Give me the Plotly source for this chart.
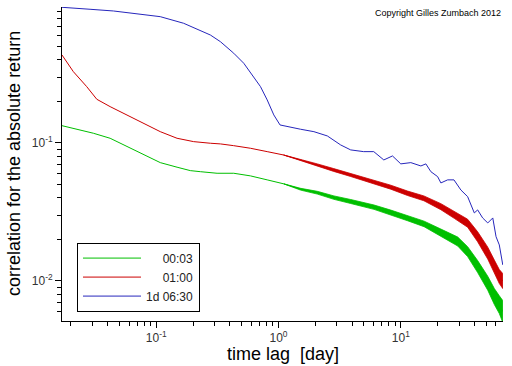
import math
import plotly.graph_objects as go

# ---------------- data ----------------
series_names = ["\u2007\u2007\u00a000:03", "\u2007\u2007\u00a001:00", "1d 06:30"]
series_colors = ["#00bf00", "#cc0000", "#2626bc"]

green_x = [0.01696, 0.02239, 0.0306, 0.04198, 0.0575, 0.0787, 0.1079, 0.148, 0.19, 0.2296,
           0.3144, 0.4303, 0.5896, 0.808, 1.105, 1.515, 2.076, 2.84, 3.892, 4.42, 6.04, 8.28,
           11.35, 15.52, 21.27, 29.2, 35.2, 42.5, 51.4, 58.2, 63.9, 68.2]
green_y = [0.1334, 0.1257, 0.1176, 0.1081, 0.0940, 0.0818, 0.0720, 0.0667, 0.0630, 0.0619,
           0.0603, 0.0603, 0.0577, 0.0540, 0.0505, 0.0462, 0.0436, 0.0401, 0.0376, 0.0366,
           0.0342, 0.0313, 0.0285, 0.0259, 0.0224, 0.0193, 0.0163, 0.0127, 0.00962, 0.0077,
           0.0067, 0.0060]

red_x = [0.01696, 0.0210, 0.0270, 0.03266, 0.04198, 0.0575, 0.0787, 0.1079, 0.148, 0.2023,
         0.2772, 0.3349, 0.428, 0.5896, 0.808, 1.099, 1.515, 2.076, 2.824, 3.892, 4.42, 6.01,
         8.28, 11.35, 15.44, 21.27, 27.35, 35.2, 42.5, 51.4, 58.2, 63.9, 68.2]
red_y = [0.434, 0.3286, 0.256, 0.2073, 0.1833, 0.1596, 0.139, 0.1207, 0.1081, 0.1022,
         0.0995, 0.0984, 0.0956, 0.0915, 0.0865, 0.0818, 0.0753, 0.0693, 0.0637, 0.0586,
         0.0564, 0.0524, 0.0478, 0.0432, 0.0397, 0.0345, 0.0301, 0.0262, 0.0209, 0.0159,
         0.0127, 0.01075, 0.0100]

blue_x = [0.01696, 0.02239, 0.02877, 0.04467, 0.0695, 0.1079, 0.1675, 0.2296, 0.2772, 0.3349,
          0.4303, 0.5198, 0.6275, 0.712, 0.808, 0.915, 1.029, 1.185, 1.515, 1.947, 2.508,
          3.222, 3.892, 4.97, 6.01, 7.26, 8.55, 10.0, 12.08, 14.59, 16.03, 17.62, 20.0, 21.27,
          24.15, 27.2, 31.0, 35.2, 39.9, 42.5, 46.7, 51.4, 56.5, 60.1, 63.9, 68.2]
blue_y = [0.962, 0.951, 0.931, 0.905, 0.861, 0.823, 0.737, 0.651, 0.606, 0.542,
          0.447, 0.378, 0.302, 0.256, 0.205, 0.1596, 0.135, 0.1312, 0.1257, 0.1207, 0.1124,
          0.0967, 0.089, 0.0865, 0.0865, 0.0753, 0.0805, 0.0705, 0.072, 0.0681, 0.0705, 0.0619,
          0.057, 0.0513, 0.054, 0.054, 0.0456, 0.0408, 0.0311, 0.0327, 0.0286, 0.0263, 0.0286,
          0.0209, 0.01823, 0.01306]

# noise envelopes of the dense (thick) parts of the curves
green_band_x = [1.105, 1.515, 2.076, 2.84, 3.892, 6.04, 8.28, 11.35, 15.52, 21.27, 29.2, 35.2,
                42.5, 51.4, 58.2, 63.9, 68.2]
green_band_lo = [0.0505, 0.0455, 0.0426, 0.0390, 0.0364, 0.0330, 0.0301, 0.0273, 0.0247, 0.02113,
                 0.0179, 0.0150, 0.01149, 0.00856, 0.00674, 0.0058, 0.0050]
green_band_hi = [0.0505, 0.0469, 0.0446, 0.0413, 0.0389, 0.0355, 0.0326, 0.0298, 0.0271, 0.02375,
                 0.0208, 0.0177, 0.01404, 0.01081, 0.0088, 0.0078, 0.0072]

red_band_x = [1.099, 1.515, 2.076, 2.824, 3.892, 6.01, 8.28, 11.35, 15.44, 21.27, 27.35, 35.2,
              42.5, 51.4, 58.2, 63.9, 68.2]
red_band_lo = [0.0818, 0.0745, 0.0681, 0.0622, 0.0571, 0.0508, 0.0462, 0.0416, 0.0381, 0.0328,
               0.0284, 0.0245, 0.0192, 0.01439, 0.0114, 0.00957, 0.0088]
red_band_hi = [0.0818, 0.0761, 0.0705, 0.0652, 0.0602, 0.0540, 0.0494, 0.0448, 0.0413, 0.0363,
               0.0319, 0.0280, 0.0227, 0.01757, 0.01415, 0.01208, 0.0113]

x_tick_vals = [0.1, 1, 10]
x_tick_text = ["10<sup>-1</sup>", "10<sup>0</sup>", "10<sup>1</sup>"]
x_minor_vals = [0.02, 0.03, 0.04, 0.05, 0.06, 0.07, 0.08, 0.09,
                0.2, 0.3, 0.4, 0.5, 0.6, 0.7, 0.8, 0.9,
                2, 3, 4, 5, 6, 7, 8, 9, 20, 30, 40, 50, 60]
y_tick_vals = [0.01, 0.1]
y_tick_text = ["10<sup>-2</sup>", "10<sup>-1</sup>"]
y_minor_vals = [0.006, 0.007, 0.008, 0.009,
                0.02, 0.03, 0.04, 0.05, 0.06, 0.07, 0.08, 0.09,
                0.2, 0.3, 0.4, 0.5, 0.6, 0.7, 0.8, 0.9]

x_range = [0.01696, 68.5]
y_range = [0.00512, 0.967]

# ---------------- figure ----------------
FONT = "Liberation Sans, Arial, sans-serif"
fig = go.Figure()


def band(xs, lo, hi, color):
    return go.Scatter(x=list(xs) + list(xs)[::-1], y=list(hi) + list(lo)[::-1],
                      mode="lines", fill="toself", fillcolor=color,
                      line=dict(color=color, width=0.8), hoverinfo="skip", showlegend=False)


fig.add_trace(go.Scatter(x=green_x, y=green_y, mode="lines", name=series_names[0],
                         line=dict(color=series_colors[0], width=1)))
fig.add_trace(go.Scatter(x=red_x, y=red_y, mode="lines", name=series_names[1],
                         line=dict(color=series_colors[1], width=1)))
fig.add_trace(go.Scatter(x=blue_x, y=blue_y, mode="lines", name=series_names[2],
                         line=dict(color=series_colors[2], width=1)))
fig.add_trace(band(green_band_x, green_band_lo, green_band_hi, series_colors[0]))
fig.add_trace(band(red_band_x, red_band_lo, red_band_hi, series_colors[1]))

axis_common = dict(type="log", showline=True, linecolor="black", linewidth=1, mirror=False,
                   showgrid=False, zeroline=False, ticks="outside", ticklen=6, tickwidth=1,
                   tickcolor="black", tickfont=dict(family=FONT, size=12, color="#333"))

fig.update_xaxes(range=[math.log10(v) for v in x_range], tickmode="array",
                 tickvals=x_tick_vals, ticktext=x_tick_text,
                 minor=dict(tickmode="array", tickvals=x_minor_vals, ticks="outside",
                            ticklen=4, tickcolor="black", tickwidth=1),
                 **axis_common)
fig.update_yaxes(range=[math.log10(v) for v in y_range], tickmode="array",
                 tickvals=y_tick_vals, ticktext=y_tick_text,
                 minor=dict(tickmode="array", tickvals=y_minor_vals, ticks="outside",
                            ticklen=4, tickcolor="black", tickwidth=1),
                 **axis_common)

fig.update_layout(
    width=512, height=366,
    margin=dict(l=62, r=9, t=7, b=45),
    paper_bgcolor="white", plot_bgcolor="white",
    font=dict(family=FONT, color="black"),
    showlegend=True,
    legend=dict(x=0.034, y=0.03, xanchor="left", yanchor="bottom",
                bgcolor="white", bordercolor="black", borderwidth=1,
                itemwidth=58, font=dict(family=FONT, size=12, color="#222"),
                tracegroupgap=0),
    annotations=[
        dict(text="correlation for the absolute return", xref="paper", yref="paper",
             x=0, y=0.5, xanchor="center", yanchor="middle", textangle=-90,
             xshift=-48, showarrow=False, font=dict(family=FONT, size=18, color="black")),
        dict(text="time lag\u00a0 [day]", xref="paper", yref="paper",
             x=0.5, y=0, xanchor="center", yanchor="middle",
             yshift=-33, showarrow=False, font=dict(family=FONT, size=18, color="black")),
        dict(text="Copyright Gilles Zumbach 2012", xref="paper", yref="paper",
             x=1, y=1, xanchor="right", yanchor="middle", yshift=-6,
             showarrow=False, font=dict(family=FONT, size=9, color="black")),
    ],
)

fig.write_html("out.html", config={"displayModeBar": False},
               post_script="document.body.style.margin='0px';document.body.style.padding='0px';")
